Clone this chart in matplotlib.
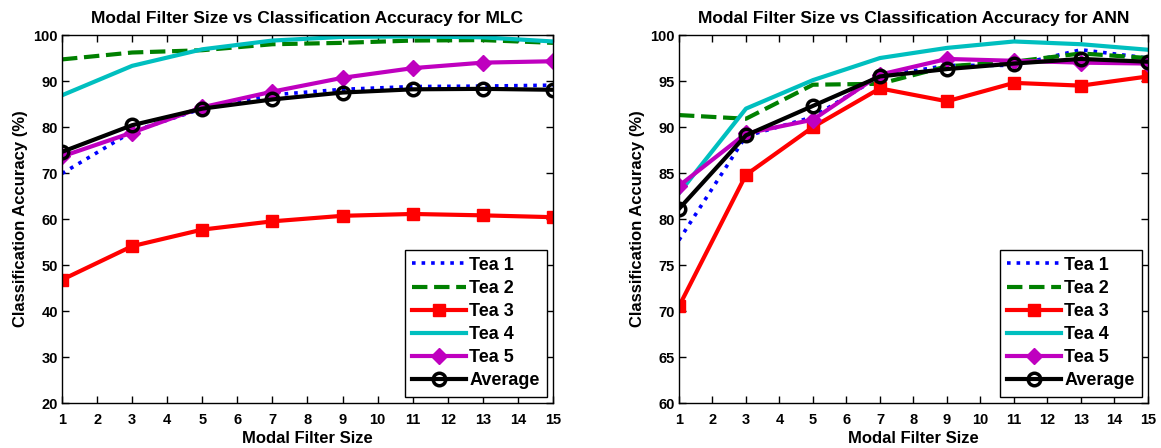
import numpy as np
import matplotlib
matplotlib.use("Agg")
import matplotlib.pyplot as plt

plt.rcParams['font.family'] = ['Liberation Sans', 'DejaVu Sans']
plt.rcParams['font.weight'] = 'bold'

filter_sizes = [1, 3, 5, 7, 9, 11, 13, 15]
labels = ['Tea 1', 'Tea 2', 'Tea 3', 'Tea 4', 'Tea 5', 'Average']

# MLC accuracies (%)
mlc_tea1 = [69.9, 79.0, 84.0, 87.0, 88.2, 88.8, 88.9, 89.1]
mlc_tea2 = [94.7, 96.2, 96.7, 98.0, 98.3, 98.8, 98.9, 98.3]
mlc_tea3 = [46.8, 54.1, 57.7, 59.5, 60.7, 61.1, 60.8, 60.4]
mlc_tea4 = [86.9, 93.3, 96.9, 98.8, 99.6, 99.7, 99.5, 98.6]
mlc_tea5 = [73.6, 78.8, 84.3, 87.7, 90.7, 92.8, 94.0, 94.3]
mlc_avg = [74.6, 80.4, 84.0, 86.0, 87.5, 88.2, 88.3, 88.1]

# ANN accuracies (%)
ann_tea1 = [77.7, 89.0, 91.1, 95.5, 96.7, 96.7, 98.4, 97.5]
ann_tea2 = [91.3, 90.9, 94.6, 94.7, 96.6, 97.1, 98.0, 97.5]
ann_tea3 = [70.5, 84.8, 90.0, 94.2, 92.8, 94.8, 94.5, 95.5]
ann_tea4 = [82.8, 92.0, 95.1, 97.5, 98.6, 99.3, 99.0, 98.4]
ann_tea5 = [83.6, 89.3, 90.8, 95.7, 97.4, 97.2, 97.0, 96.9]
ann_avg = [81.1, 89.1, 92.3, 95.5, 96.3, 96.9, 97.4, 97.1]

styles = [
    dict(color='blue', linestyle=':', lw=2.6),
    dict(color=(0, 0.5, 0), linestyle='--', lw=3),
    dict(color='red', linestyle='-', lw=3, marker='s', ms=8.5),
    dict(color=(0, 0.75, 0.75), linestyle='-', lw=3),
    dict(color=(0.75, 0, 0.75), linestyle='-', lw=3, marker='D', ms=8.5),
    dict(color='black', linestyle='-', lw=3, marker='o', ms=9, mfc='none', mew=2.5),
]

fig = plt.figure(figsize=(11.61, 4.48), dpi=100)
ax1 = fig.add_axes([0.0534, 0.1004, 0.4229, 0.8214])
ax2 = fig.add_axes([0.5848, 0.1004, 0.4040, 0.8214])

panels = [
    (ax1, [mlc_tea1, mlc_tea2, mlc_tea3, mlc_tea4, mlc_tea5, mlc_avg],
     'Modal Filter Size vs Classification Accuracy for MLC', (20, 100), 10),
    (ax2, [ann_tea1, ann_tea2, ann_tea3, ann_tea4, ann_tea5, ann_avg],
     'Modal Filter Size vs Classification Accuracy for ANN', (60, 100), 5),
]

for ax, series, title, ylim, ystep in panels:
    for vals, lab, st in zip(series, labels, styles):
        ax.plot(filter_sizes, vals, label=lab, **st)
    ax.set_xlim(1, 15)
    ax.set_ylim(*ylim)
    ax.set_xticks(np.arange(1, 16))
    ax.set_yticks(np.arange(ylim[0], ylim[1] + 1, ystep))
    ax.tick_params(direction='in', top=True, right=True, length=5, width=1)
    ax.tick_params(axis='x', labelsize=10.5, pad=7)
    ax.tick_params(axis='y', labelsize=10.5, pad=3)
    for lab in ax.get_xticklabels() + ax.get_yticklabels():
        lab.set_fontweight('bold')
    for sp in ax.spines.values():
        sp.set_linewidth(1)
    ax.set_title(title, fontsize=12.5, fontweight='bold', pad=9)
    ax.set_xlabel('Modal Filter Size', fontsize=12, fontweight='bold', labelpad=3)
    ax.set_ylabel('Classification Accuracy (%)', fontsize=12, fontweight='bold', labelpad=4)
    leg = ax.legend(loc='lower right', fontsize=13, fancybox=False, framealpha=1,
                    edgecolor='black', borderaxespad=0.35, handlelength=3.0,
                    handletextpad=0.15, labelspacing=0.34, borderpad=0.4)
    leg.get_frame().set_linewidth(1)
    for t in leg.get_texts():
        t.set_fontweight('bold')

fig.savefig('out.png', dpi=100)
